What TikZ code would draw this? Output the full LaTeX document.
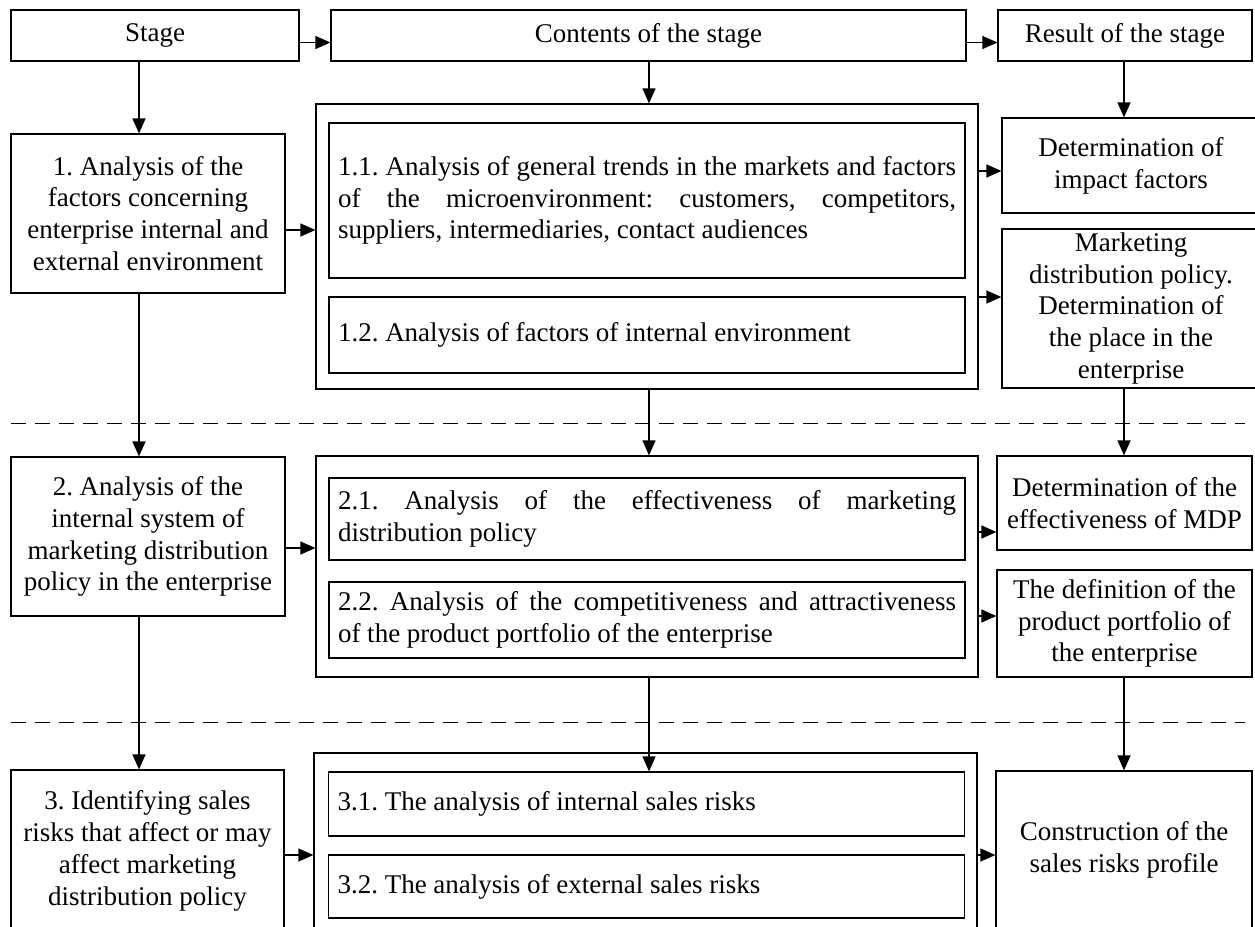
\documentclass[tikz,border=0pt]{standalone}
\usepackage{fontspec}
\setmainfont{Liberation Serif}
\usetikzlibrary{positioning,calc,arrows.meta}

\begin{document}
\frenchspacing
\begin{tikzpicture}[x=1pt,y=-1pt,->,>={Triangle[length=15pt,width=13pt]},line width=1.2pt,
                every node/.style={font=\fontsize{27}{31.8}\selectfont},
                main box/.style={draw,align=center,inner sep=0pt},
                inner box/.style={draw,align=justify,text width=618pt,inner xsep=9pt,inner ysep=0pt},
                outer box/.style={draw,inner sep=0pt},
                stage line/.style={-,line width=1pt,dash pattern=on 15pt off 9pt}]
\useasboundingbox (0,0) rectangle (1255,926);
\clip (0,0) rectangle (1255,926);
%Header
    \node[main box,minimum width=288pt,minimum height=51pt] (stage) at (155,35.5) {Stage};
    \node[main box,minimum width=635pt,minimum height=51pt] (contents) at (648.5,35.5) {Contents of the stage};
    \node[main box,minimum width=254pt,minimum height=51pt] (result) at (1125,35.5) {Result of the stage};
%Stage 1
    \node[main box,minimum width=274pt,minimum height=159pt] (st1) at (148,213.5) {1. Analysis of the\\factors concerning\\enterprise internal and\\external environment};
    \node[outer box,minimum width=662pt,minimum height=285pt] (out1) at (647,246.5) {};
    \node[inner box,minimum height=155pt] (c11) at (647,200.5) {1.1. Analysis of general trends in the markets and factors\linebreak of the microenvironment: customers, competitors,\linebreak suppliers, intermediaries, contact audiences};
    \node[inner box,minimum height=76pt] (c12) at (647,335) {1.2. Analysis of factors of internal environment};
    \node[main box,minimum width=258pt,minimum height=95pt] (impact) at (1131,165.5) {Determination of\\impact factors};
    \node[main box,minimum width=258pt,minimum height=159pt] (place) at (1131,308.5) {Marketing\\distribution policy.\\Determination of\\the place in the\\enterprise};
%Stage 2
    \node[main box,minimum width=274pt,minimum height=159pt] (st2) at (148,536.5) {2. Analysis of the\\internal system of\\marketing distribution\\policy in the enterprise};
    \node[outer box,minimum width=662pt,minimum height=221pt] (out2) at (647,566.5) {};
    \node[inner box,minimum height=82pt] (c21) at (647,519) {2.1. Analysis of the effectiveness of marketing\linebreak distribution policy};
    \node[inner box,minimum height=76pt] (c22) at (647,620) {2.2. Analysis of the competitiveness and attractiveness\linebreak of the product portfolio of the enterprise};
    \node[main box,minimum width=255pt,minimum height=94pt] (mdp) at (1124.5,503) {Determination of the\\effectiveness of MDP};
    \node[main box,minimum width=255pt,minimum height=107pt] (portf) at (1124.5,623.5) {The definition of the\\product portfolio of\\the enterprise};
%Stage 3
    \node[main box,minimum width=273pt,minimum height=162pt] (st3) at (147.5,851) {3. Identifying sales\\risks that affect or may\\affect marketing\\distribution policy};
    \node[outer box,minimum width=663pt,minimum height=181pt] (out3) at (645.5,843.5) {};
    \node[inner box,minimum height=64pt] (c31) at (646.5,804) {3.1. The analysis of internal sales risks};
    \node[inner box,minimum height=63pt] (c32) at (646.5,886.5) {3.2. The analysis of external sales risks};
    \node[main box,minimum width=256pt,minimum height=157pt] (profile) at (1124,849.5) {Construction of the\\sales risks profile};
%Separators
    \draw[stage line] (11,423) -- (1245,423);
    \draw[stage line] (11,722) -- (1245,722);
%Arrow levels
    \coordinate (lx) at (139,0);
    \coordinate (mx) at (649,0);
    \coordinate (rx) at (1124,0);
    \coordinate (t0) at (0,42.5);
    \coordinate (a1) at (0,230);
    \coordinate (b1) at (0,171);
    \coordinate (b2) at (0,297);
    \coordinate (a2) at (0,548);
    \coordinate (d1) at (0,532);
    \coordinate (d2) at (0,616);
    \coordinate (a3) at (0,855);
%Arrows
    \draw[->] (stage.east |- t0) -- (contents.west |- t0);
    \draw[->] (contents.east |- t0) -- (result.west |- t0);
    \draw[->] (stage.south -| lx) -- (st1.north -| lx);
    \draw[->] (contents.south -| mx) -- (out1.north -| mx);
    \draw[->] (result.south -| rx) -- (impact.north -| rx);
    \draw[->] (st1.east |- a1) -- (out1.west |- a1);
    \draw[->] (out1.east |- b1) -- (impact.west |- b1);
    \draw[->] (out1.east |- b2) -- (place.west |- b2);
    \draw[->] (st1.south -| lx) -- (st2.north -| lx);
    \draw[->] (out1.south -| mx) -- (out2.north -| mx);
    \draw[->] (place.south -| rx) -- (mdp.north -| rx);
    \draw[->] (st2.east |- a2) -- (out2.west |- a2);
    \draw[->] (out2.east |- d1) -- (mdp.west |- d1);
    \draw[->] (out2.east |- d2) -- (portf.west |- d2);
    \draw[->] (st2.south -| lx) -- (st3.north -| lx);
    \draw[->] (out2.south -| mx) -- (c31.north -| mx);
    \draw[->] (portf.south -| rx) -- (profile.north -| rx);
    \draw[->] (st3.east |- a3) -- (out3.west |- a3);
    \draw[->] (out3.east |- a3) -- (profile.west |- a3);
\end{tikzpicture}
\end{document}
